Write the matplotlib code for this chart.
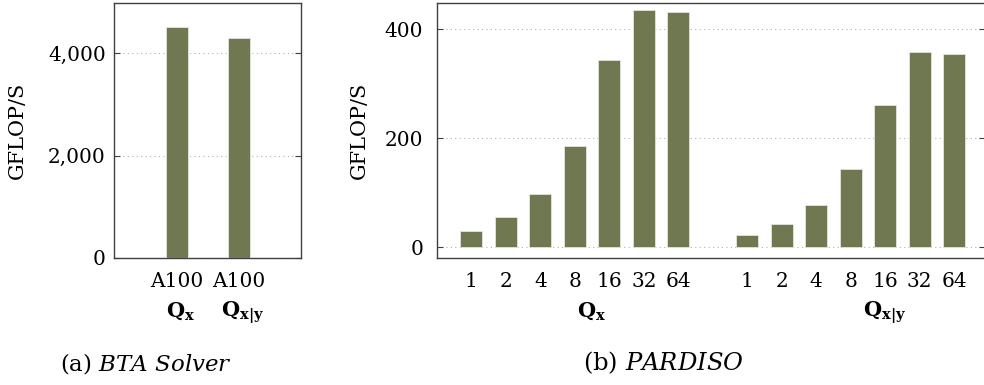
import numpy as np
import matplotlib
matplotlib.use("Agg")
import matplotlib.pyplot as plt
from matplotlib.ticker import FuncFormatter

# data
bta_devices = ["A100", "A100"]
bta_matrices = [r"$\mathbf{Q}_{\mathbf{x}}$", r"$\mathbf{Q}_{\mathbf{x|y}}$"]
bta_gflops = [4510, 4290]

threads = ["1", "2", "4", "8", "16", "32", "64"]
pardiso_qx = [29, 55, 97, 186, 344, 435, 431]
pardiso_qxy = [23, 42, 78, 143, 261, 358, 354]
pardiso_groups = [r"$\mathbf{Q}_{\mathbf{x}}$", r"$\mathbf{Q}_{\mathbf{x|y}}$"]

BAR = "#6f7850"
SPINE = "#404040"

plt.rcParams["font.family"] = ["DejaVu Serif"]
plt.rcParams["mathtext.fontset"] = "dejavuserif"
plt.rcParams["font.size"] = 14.5


def style_axes(ax, labelpad, ypad):
    for s in ax.spines.values():
        s.set_color(SPINE)
        s.set_linewidth(1.0)
    ax.tick_params(axis="y", direction="in", length=4, width=0.8,
                   color=SPINE, left=True, right=True, pad=ypad)
    ax.tick_params(axis="x", length=0, pad=10)
    ax.yaxis.grid(True, linestyle=(0, (1, 3)), color="#b0b0b0", linewidth=0.8)
    ax.set_axisbelow(True)
    ax.set_ylabel("GFLOP/S", fontsize=15, labelpad=labelpad)


fig = plt.figure(figsize=(9.84, 3.85), dpi=100)

# (a) BTA solver
ax1 = fig.add_axes((0.1159, 0.330, 0.190, 0.662))
x1 = np.arange(len(bta_gflops))
ax1.bar(x1, bta_gflops, width=0.355, color=BAR, edgecolor="#e4e4dc",
        linewidth=0.6, zorder=3)
ax1.set_xlim(-1.02, 2.0)
ax1.set_ylim(0, 4980)
ax1.set_yticks([0, 2000, 4000])
ax1.yaxis.set_major_formatter(FuncFormatter(lambda v, p: f"{int(v):,}"))
ax1.set_xticks(x1)
ax1.set_xticklabels(bta_devices)
style_axes(ax1, labelpad=15, ypad=6)
for xi, lab in zip(x1, bta_matrices):
    ax1.text(xi + 0.06, -0.231, lab, transform=ax1.get_xaxis_transform(),
             ha="center", va="baseline", fontsize=15)

# (b) PARDISO
ax2 = fig.add_axes((0.444, 0.330, 0.5575, 0.662))
n = len(threads)
xa = np.arange(n)
xb = np.arange(n) + n + 1
ax2.bar(xa, pardiso_qx, width=0.64, color=BAR, edgecolor="#e4e4dc",
        linewidth=0.6, zorder=3)
ax2.bar(xb, pardiso_qxy, width=0.64, color=BAR, edgecolor="#e4e4dc",
        linewidth=0.6, zorder=3)
ax2.set_xlim(-1.0, 14.91)
ax2.set_ylim(-20, 448)
ax2.set_yticks([0, 200, 400])
ax2.set_xticks(np.concatenate([xa, xb]))
ax2.set_xticklabels(threads + threads)
style_axes(ax2, labelpad=11, ypad=10)
# group labels sit a little right of the group centres in the reference
for xc, lab in zip([xa.mean() + 0.5, xb.mean() + 1.0], pardiso_groups):
    ax2.text(xc, -0.231, lab, transform=ax2.get_xaxis_transform(),
             ha="center", va="baseline", fontsize=15)

# sub-captions
fig.text(0.061, 0.057, r"(a) $\mathit{BTA\ Solver}$", fontsize=16.5,
         ha="left", va="center")
fig.text(0.592, 0.057, r"(b) $\mathit{PARDISO}$", fontsize=17.5,
         ha="left", va="center")

fig.savefig("out.png", dpi=100)
